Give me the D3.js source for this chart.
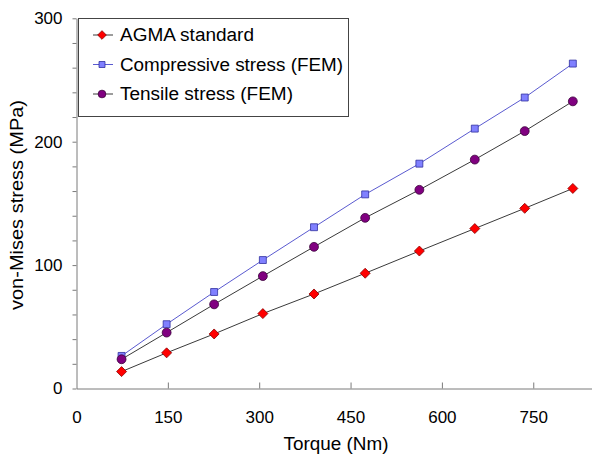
<!DOCTYPE html>
<html>
<head>
<meta charset="utf-8">
<script src="https://cdn.jsdelivr.net/npm/d3@7/dist/d3.min.js"></script>
<style>
  html, body { margin: 0; padding: 0; background: #fff; }
  svg { display: block; font-family: "Liberation Sans", Arial, sans-serif; }
</style>
</head>
<body>
<svg id="chart" width="592" height="459"></svg>
<script>
// Torque levels (Nm)
const torque = [74, 148, 226, 306, 390, 474, 563, 654, 736, 815];
// von-Mises stress (MPa) for each method
const agma        = [13.7, 28.9, 44.2, 60.7, 76.6, 93.4, 111.4, 129.6, 146.0, 162.1];
const compressive = [26.4, 52.1, 78.2, 104.1, 130.7, 157.3, 182.2, 210.6, 235.8, 263.3];
const tensile     = [23.7, 45.3, 68.2, 91.1, 114.8, 138.3, 161.0, 185.5, 208.6, 232.7];

const xTicks = [0, 150, 300, 450, 600, 750];
const yTicks = [0, 100, 200, 300];
const yMinorStep = 20;

const seriesNames = ["AGMA standard", "Compressive stress (FEM)", "Tensile stress (FEM)"];

const svg = d3.select("#chart");

const x = d3.scaleLinear().domain([0, 900]).range([76.5, 624.6]);
const y = d3.scaleLinear().domain([0, 300]).range([388.5, 18.3]);

const axisColor = "#7a7a7a";

// Diamond drawn as a square turned 45 degrees
const diamond = {
  draw(ctx, size) {
    const r = Math.sqrt(size / 2);
    ctx.moveTo(0, -r); ctx.lineTo(r, 0); ctx.lineTo(0, r); ctx.lineTo(-r, 0); ctx.closePath();
  }
};

// Y axis: minor ticks every 20 MPa, labels every 100
const yAxis = d3.axisLeft(y)
  .tickValues(d3.range(0, 301, yMinorStep))
  .tickSize(4)
  .tickSizeOuter(0)
  .tickFormat(d => yTicks.includes(d) ? d : "");
const gy = svg.append("g").attr("transform", `translate(${x(0)},0)`).call(yAxis);
gy.select(".domain").attr("stroke", axisColor);
gy.selectAll(".tick line").attr("stroke", axisColor);
gy.selectAll(".tick text")
  .attr("x", -14)
  .attr("fill", "#000")
  .style("font-size", "17px");

// X axis with inward ticks
const xAxis = d3.axisBottom(x)
  .tickValues(xTicks)
  .tickSize(-6)
  .tickSizeOuter(0)
  .tickFormat(d => d);
const gx = svg.append("g").attr("transform", `translate(0,${y(0)})`).call(xAxis);
gx.select(".domain").attr("stroke", axisColor);
gx.selectAll(".tick line").attr("stroke", axisColor);
gx.selectAll(".tick text")
  .attr("y", 22)
  .attr("dy", "0.71em")
  .attr("fill", "#000")
  .style("font-size", "17px");
gx.selectAll(".tick").filter(d => d === 0).select("line").remove();

// Axis titles
svg.append("text")
  .attr("x", 336).attr("y", 450)
  .attr("text-anchor", "middle")
  .attr("textLength", 105)
  .attr("lengthAdjust", "spacingAndGlyphs")
  .style("font-size", "18px")
  .text("Torque (Nm)");
svg.append("text")
  .attr("transform", "translate(23,205) rotate(-90)")
  .attr("text-anchor", "middle")
  .attr("textLength", 210)
  .attr("lengthAdjust", "spacingAndGlyphs")
  .style("font-size", "18px")
  .text("von-Mises stress (MPa)");

// Series definitions
const series = [
  { name: seriesNames[0], values: agma,        line: "#3a3a3a", fill: "#ff0000", stroke: "#8a0000", shape: diamond,         size: 50, textLen: 134 },
  { name: seriesNames[1], values: compressive, line: "#5a5ad0", fill: "#8080ff", stroke: "#3030a0", shape: d3.symbolSquare, size: 48, textLen: 223 },
  { name: seriesNames[2], values: tensile,     line: "#3a3a3a", fill: "#800080", stroke: "#3a003a", shape: d3.symbolCircle, size: 62, textLen: 173 }
];

const line = d3.line().x(d => x(d[0])).y(d => y(d[1]));

series.forEach(s => {
  const pts = torque.map((t, i) => [t, s.values[i]]);
  svg.append("path")
    .datum(pts)
    .attr("d", line)
    .attr("fill", "none")
    .attr("stroke", s.line)
    .attr("stroke-width", 1);
  svg.append("g").selectAll("path")
    .data(pts)
    .join("path")
    .attr("transform", d => `translate(${x(d[0])},${y(d[1])})`)
    .attr("d", d3.symbol(s.shape, s.size))
    .attr("fill", s.fill)
    .attr("stroke", s.stroke)
    .attr("stroke-width", 0.8);
});

// Legend
const legend = svg.append("g");
legend.append("rect")
  .attr("x", 78.5).attr("y", 18.5)
  .attr("width", 270).attr("height", 98)
  .attr("fill", "#fff")
  .attr("stroke", "#444")
  .attr("stroke-width", 1);
series.forEach((s, i) => {
  const cy = 35 + i * 29.5;
  legend.append("line")
    .attr("x1", 93).attr("x2", 113)
    .attr("y1", cy).attr("y2", cy)
    .attr("stroke", s.line);
  legend.append("path")
    .attr("transform", `translate(102,${cy})`)
    .attr("d", d3.symbol(s.shape, s.size * 0.75))
    .attr("fill", s.fill)
    .attr("stroke", s.stroke)
    .attr("stroke-width", 0.8);
  legend.append("text")
    .attr("x", 120).attr("y", cy)
    .attr("dy", "0.36em")
    .attr("textLength", s.textLen)
    .attr("lengthAdjust", "spacingAndGlyphs")
    .style("font-size", "18px")
    .text(s.name);
});
</script>
</body>
</html>
